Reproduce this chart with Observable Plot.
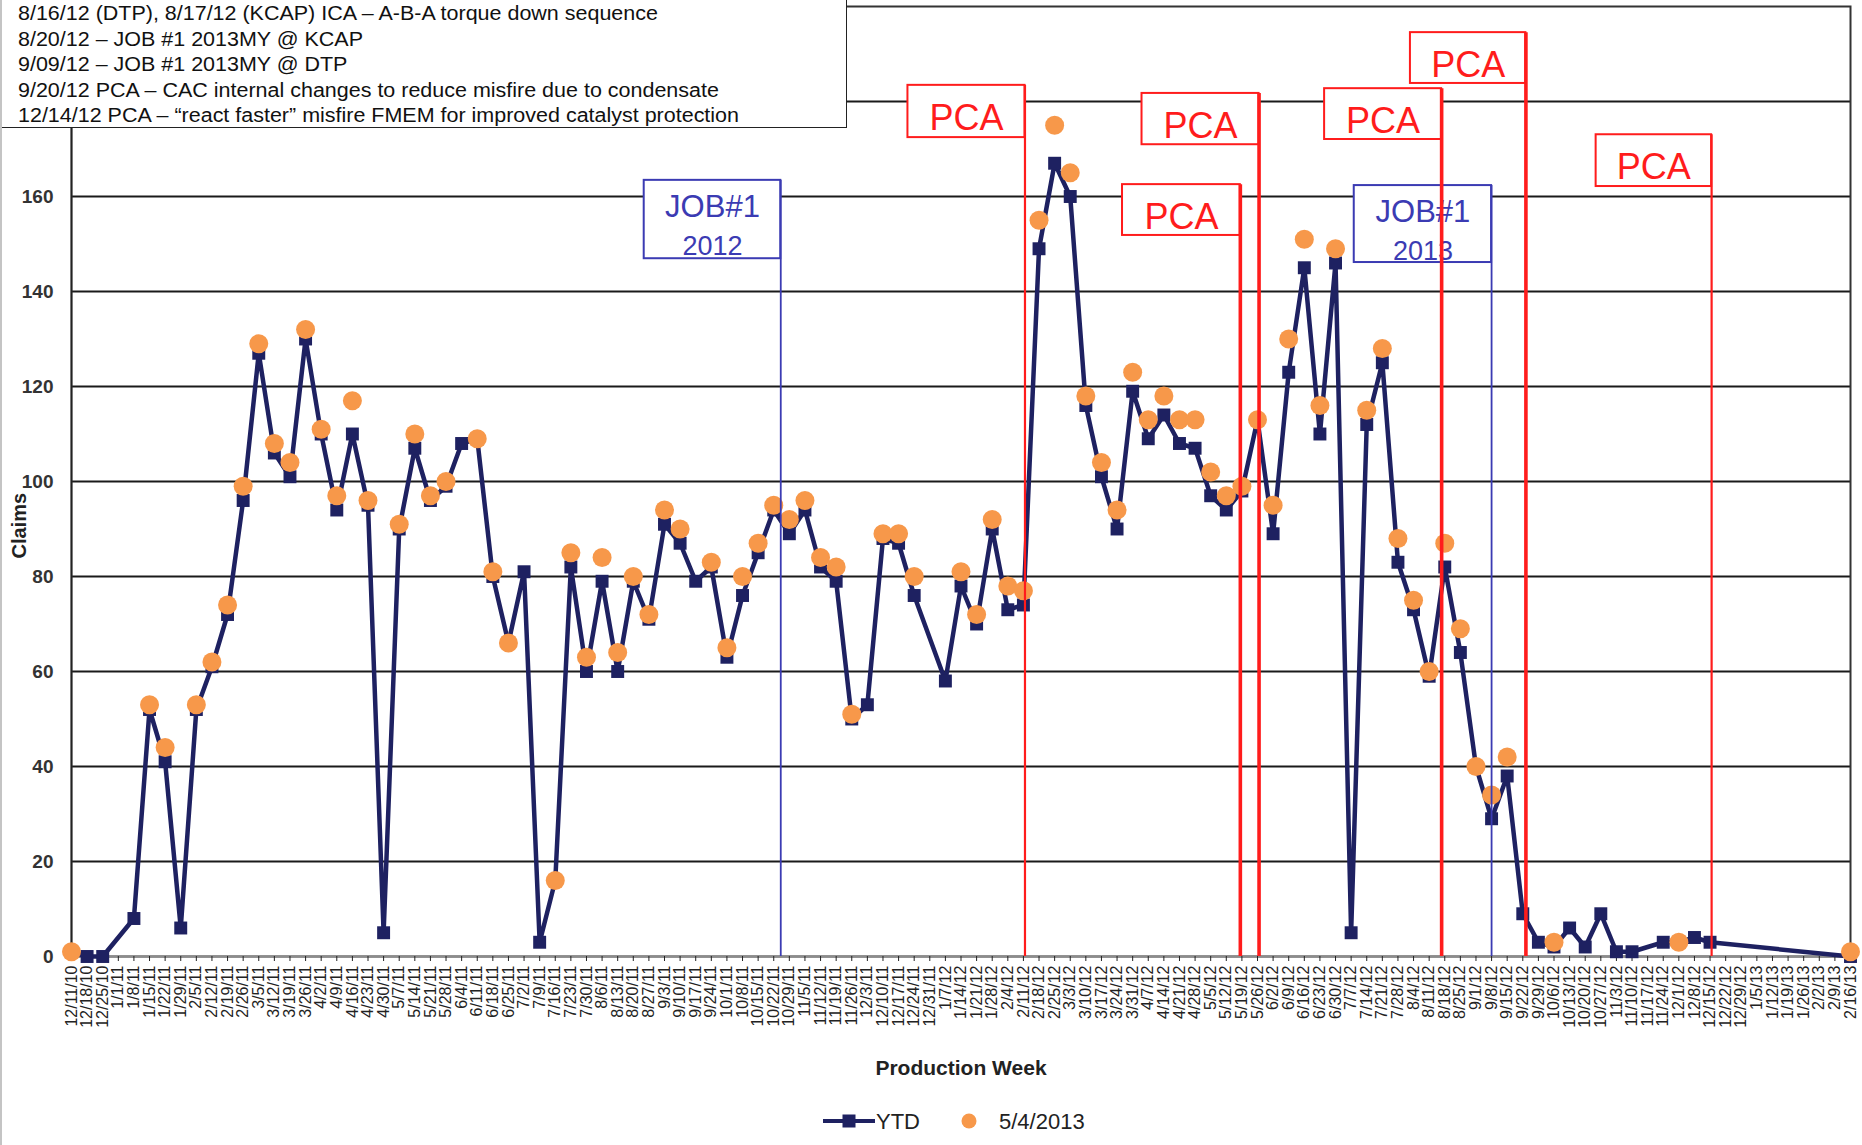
<!DOCTYPE html>
<html><head><meta charset="utf-8">
<script src="https://cdn.jsdelivr.net/npm/d3@7"></script>
<script src="https://cdn.jsdelivr.net/npm/@observablehq/plot@0.6"></script>
<style>
html,body{margin:0;padding:0;background:#fff;}
#wrap{position:relative;width:1862px;height:1145px;overflow:hidden;font-family:"Liberation Sans",Arial,sans-serif;}
#chart{position:absolute;left:0;top:0;}
#notes{position:absolute;left:0;top:0;width:846px;height:127px;background:#fff;border-right:1.5px solid #222;border-bottom:1.5px solid #222;}
#notes div{position:absolute;left:18px;height:26px;line-height:26px;font-size:20px;color:#111;white-space:nowrap;transform-origin:0 50%;font-family:"Liberation Sans Narrow","Arial Narrow","Liberation Sans",Arial,sans-serif;}
#legend{position:absolute;left:0;top:1095px;width:1862px;height:50px;}
#edge{position:absolute;left:0;top:0;width:2px;height:1145px;background:#c4c4c4;}
</style>
</head><body><div id="wrap"><div id="chart"></div><div id="notes"></div><div id="legend"></div><div id="edge"></div></div>
<script>
// ---------- data ----------
const weeks = ["12/11/10","12/18/10","12/25/10","1/1/11","1/8/11","1/15/11","1/22/11","1/29/11","2/5/11","2/12/11",
"2/19/11","2/26/11","3/5/11","3/12/11","3/19/11","3/26/11","4/2/11","4/9/11","4/16/11","4/23/11",
"4/30/11","5/7/11","5/14/11","5/21/11","5/28/11","6/4/11","6/11/11","6/18/11","6/25/11","7/2/11",
"7/9/11","7/16/11","7/23/11","7/30/11","8/6/11","8/13/11","8/20/11","8/27/11","9/3/11","9/10/11",
"9/17/11","9/24/11","10/1/11","10/8/11","10/15/11","10/22/11","10/29/11","11/5/11","11/12/11","11/19/11",
"11/26/11","12/3/11","12/10/11","12/17/11","12/24/11","12/31/11","1/7/12","1/14/12","1/21/12","1/28/12",
"2/4/12","2/11/12","2/18/12","2/25/12","3/3/12","3/10/12","3/17/12","3/24/12","3/31/12","4/7/12",
"4/14/12","4/21/12","4/28/12","5/5/12","5/12/12","5/19/12","5/26/12","6/2/12","6/9/12","6/16/12",
"6/23/12","6/30/12","7/7/12","7/14/12","7/21/12","7/28/12","8/4/12","8/11/12","8/18/12","8/25/12",
"9/1/12","9/8/12","9/15/12","9/22/12","9/29/12","10/6/12","10/13/12","10/20/12","10/27/12","11/3/12",
"11/10/12","11/17/12","11/24/12","12/1/12","12/8/12","12/15/12","12/22/12","12/29/12","1/5/13","1/12/13",
"1/19/13","1/26/13","2/2/13","2/9/13","2/16/13"];

const ytd = [1,0,0,null,8,52,41,6,52,61,
72,96,127,106,101,130,110,94,110,95,
5,90,107,96,99,108,109,80,66,81,
3,16,82,60,79,60,79,71,91,87,
79,82,63,76,85,94,89,94,82,79,
50,53,88,87,76,null,58,78,70,90,
73,74,149,167,160,116,101,90,119,109,
114,108,107,97,94,98,113,89,123,145,
110,146,5,112,125,83,73,59,82,64,
40,29,38,9,3,2,6,2,9,1,
1,null,3,3,4,3,null,null,null,null,
null,null,null,null,0];

const may4 = [1,null,null,null,null,53,44,null,53,62,
74,99,129,108,104,132,111,97,117,96,
null,91,110,97,100,null,109,81,66,null,
null,16,85,63,84,64,80,72,94,90,
null,83,65,80,87,95,92,96,84,82,
51,null,89,89,80,null,null,81,72,92,
78,77,155,175,165,118,104,94,123,113,
118,113,113,102,97,99,113,95,130,151,
116,149,null,115,128,88,75,60,87,69,
40,34,42,null,null,3,null,null,null,null,
null,null,null,3,null,null,null,null,null,null,
null,null,null,null,1];

const seriesNames = ["YTD", "5/4/2013"];
const yGrid = [20,40,60,80,100,120,140,160,180];
const yLabels = [0,20,40,60,80,100,120,140,160]; // 180 and 200 sit under the notes box

const notes = [
  "8/16/12 (DTP), 8/17/12 (KCAP) ICA \u2013 A-B-A torque down sequence",
  "8/20/12 \u2013 JOB #1 2013MY @ KCAP",
  "9/09/12 \u2013 JOB #1 2013MY @ DTP",
  "9/20/12 PCA \u2013 CAC internal changes to reduce misfire due to condensate",
  "12/14/12 PCA \u2013 \u201creact faster\u201d misfire FMEM for improved catalyst protection"
];

// event markers: week index of the event line, box extent (week index / claims)
const jobEvents = [
  {line1:"JOB#1", line2:"2012", at:45.45, left:36.7, top:163.4, bottom:146.9},
  {line1:"JOB#1", line2:"2013", at:91.0, left:82.2, top:162.3, bottom:146.1}
];
const pcaEvents = [
  {label:"PCA", at:61.1, left:53.6, top:183.4, bottom:172.4, heavy:false},
  {label:"PCA", at:74.9, left:67.35, top:162.5, bottom:151.8, heavy:true},
  {label:"PCA", at:76.1, left:68.6, top:181.7, bottom:170.9, heavy:true},
  {label:"PCA", at:87.8, left:80.3, top:182.7, bottom:172.0, heavy:true},
  {label:"PCA", at:93.2, left:85.8, top:194.5, bottom:183.8, heavy:true},
  {label:"PCA", at:105.1, left:97.7, top:173.0, bottom:162.1, heavy:false}
];

// ---------- chart ----------
const NAVY = "#1e2161", ORANGE = "#f7984a", RED = "#ff1c1c", BLUE = "#3b3bb3";
const rows = weeks.map((w, i) => ({i, week: w, ytd: ytd[i], may4: may4[i]}));
const ytdRows = rows.filter(d => d.ytd != null);
const mayRows = rows.filter(d => d.may4 != null);
const mid = d => (d.left + d.at) / 2;

const chart = Plot.plot({
  width: 1862, height: 1095,
  marginLeft: 71, marginRight: 12, marginTop: 6, marginBottom: 139,
  style: {fontFamily: "'Liberation Sans', Arial, sans-serif", background: "transparent", overflow: "visible"},
  x: {type: "linear", domain: [0, weeks.length - 1]},
  y: {domain: [0, 200]},
  marks: [
    Plot.ruleY(yGrid, {stroke: "#1a1a1a", strokeWidth: 2}),
    Plot.frame({stroke: "#333", strokeWidth: 2}),
    Plot.ruleY([0], {stroke: "#8c8c8c", strokeWidth: 2}),
    Plot.ruleX([0], {stroke: "#222", strokeWidth: 1.5}),
    Plot.axisY({ticks: yLabels, tickSize: 0, tickPadding: 18, fontSize: 19, fontWeight: "bold", color: "#333", label: null}),
    Plot.axisX({ticks: d3.range(weeks.length), tickFormat: i => weeks[i], tickRotate: -90, tickSize: 5, tickPadding: 4, fontSize: 16, color: "#222", label: null}),
    Plot.text(["Claims"], {text: d => d, frameAnchor: "left", dx: -52, dy: 77, rotate: -90, fontSize: 20, fontWeight: "bold", fill: "#222"}),
    Plot.text(["Production Week"], {text: d => d, frameAnchor: "bottom", dy: 118, fontSize: 21, fontWeight: "bold", fill: "#222"}),
    Plot.line(ytdRows, {x: "i", y: "ytd", stroke: NAVY, strokeWidth: 4.5, strokeLinejoin: "miter"}),
    Plot.dot(ytdRows, {x: "i", y: "ytd", symbol: "square", r: 7.3, fill: NAVY}),
    Plot.dot(mayRows, {x: "i", y: "may4", r: 9.5, fill: ORANGE}),
    // annotation boxes
    Plot.rect(jobEvents, {x1: "left", x2: "at", y1: "bottom", y2: "top", fill: "white", stroke: BLUE, strokeWidth: 2}),
    Plot.text(jobEvents, {x: mid, y: "top", text: "line1", dy: 27, fontSize: 31, fill: BLUE}),
    Plot.text(jobEvents, {x: mid, y: "top", text: "line2", dy: 66, fontSize: 27, fill: BLUE}),
    Plot.rect(pcaEvents, {x1: "left", x2: "at", y1: "bottom", y2: "top", fill: "white", stroke: RED, strokeWidth: 2}),
    Plot.text(pcaEvents, {x: mid, y: d => (d.top + d.bottom) / 2, text: "label", dy: 7, fontSize: 36, fill: RED}),
    // event lines
    Plot.ruleX(jobEvents, {x: "at", y1: d => 0, y2: "top", stroke: BLUE, strokeWidth: 1.8}),
    Plot.ruleX(pcaEvents.filter(d => d.heavy), {x: "at", y1: d => 0, y2: "top", stroke: RED, strokeWidth: 3.6}),
    Plot.ruleX(pcaEvents.filter(d => !d.heavy), {x: "at", y1: d => 0, y2: "top", stroke: RED, strokeWidth: 2.2})
  ]
});
document.getElementById("chart").appendChild(chart);

// ---------- notes box ----------
const notesBox = document.getElementById("notes");
const noteEls = notes.map((t, k) => {
  const el = document.createElement("div");
  el.textContent = t;
  el.style.top = (k * 25.5) + "px";
  notesBox.appendChild(el);
  return el;
});
const w5 = noteEls[4].getBoundingClientRect().width;
if (w5 > 0) {
  const s = 721 / w5;
  noteEls.forEach(el => el.style.transform = `scaleX(${s})`);
}

// ---------- legend ----------
const ns = "http://www.w3.org/2000/svg";
const lg = document.createElementNS(ns, "svg");
lg.setAttribute("width", 1862); lg.setAttribute("height", 50);
lg.style.fontFamily = "'Liberation Sans', Arial, sans-serif";
function el(tag, attrs, txt) {
  const e = document.createElementNS(ns, tag);
  for (const k in attrs) e.setAttribute(k, attrs[k]);
  if (txt) e.textContent = txt;
  lg.appendChild(e); return e;
}
el("line", {x1: 823, x2: 875, y1: 26, y2: 26, stroke: NAVY, "stroke-width": 4});
el("rect", {x: 842.5, y: 19.5, width: 13, height: 13, fill: NAVY});
el("text", {x: 876, y: 34, "font-size": 22, fill: "#222"}, seriesNames[0]);
el("circle", {cx: 969, cy: 26, r: 7.5, fill: ORANGE});
el("text", {x: 999, y: 34, "font-size": 22, fill: "#222"}, seriesNames[1]);
document.getElementById("legend").appendChild(lg);
</script>
</body></html>
